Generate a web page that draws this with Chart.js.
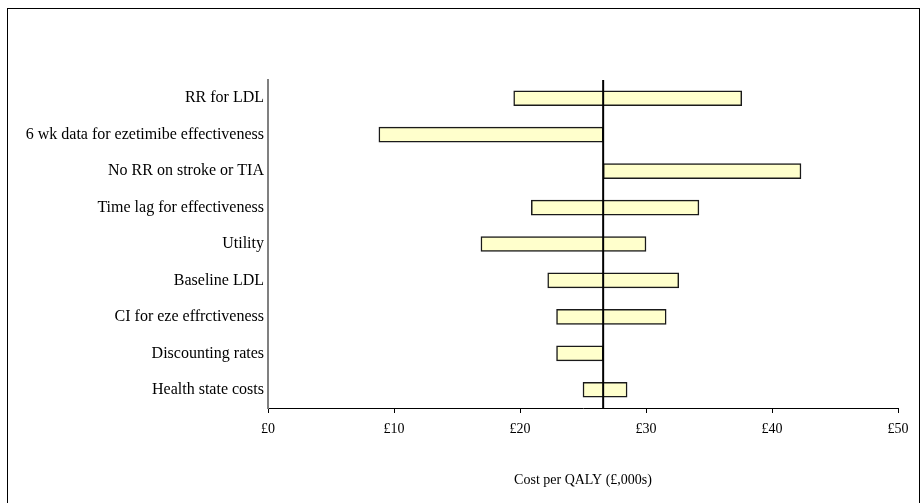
<!DOCTYPE html>
<html>
<head>
<meta charset="utf-8">
<script src="https://cdn.jsdelivr.net/npm/chart.js@4/dist/chart.umd.min.js"></script>
<style>
  html, body { margin: 0; padding: 0; background: #fff; }
  #wrap { position: relative; width: 921px; height: 503px; overflow: hidden; }
  #frame { position: absolute; left: 7px; top: 8px; width: 913px; height: 520px; border: 1.5px solid #000; box-sizing: border-box; pointer-events: none; }
  canvas { position: absolute; left: 0; top: 0; }
</style>
</head>
<body>
<div id="wrap">
  <canvas id="c" width="921" height="503"></canvas>
  <div id="frame"></div>
</div>
<script>
// Sensitivity analyses: cost per QALY range for each scenario (£,000s)
const categories = [
  'RR for LDL',
  '6 wk data for ezetimibe effectiveness',
  'No RR on stroke or TIA',
  'Time lag for effectiveness',
  'Utility',
  'Baseline LDL',
  'CI for eze effrctiveness',
  'Discounting rates',
  'Health state costs'
];
const lowValues  = [19.5, 8.8, 26.6, 20.9, 16.9, 22.2, 22.9, 22.9, 25.0];
const highValues = [37.6, 26.6, 42.3, 34.2, 30.0, 32.6, 31.6, 26.6, 28.5];
const baseCase = 26.6;
const xTicks = [0, 10, 20, 30, 40, 50];

const SERIF = '"Liberation Serif", "Times New Roman", serif';
const FONT = { family: SERIF, size: 14 };
const LABEL_FONT = { family: SERIF, size: 16 };

// Vertical reference line at the base-case value
const baseLinePlugin = {
  id: 'baseLine',
  afterDatasetsDraw(chart) {
    const { ctx, chartArea, scales } = chart;
    const x = scales.x.getPixelForValue(baseCase);
    ctx.save();
    ctx.strokeStyle = '#000';
    ctx.lineWidth = 2;
    ctx.beginPath();
    ctx.moveTo(x, chartArea.top);
    ctx.lineTo(x, chartArea.bottom);
    ctx.stroke();
    ctx.restore();
  }
};

new Chart(document.getElementById('c'), {
  type: 'bar',
  data: {
    labels: categories,
    datasets: [{
      data: categories.map((_, i) => [lowValues[i], highValues[i]]),
      backgroundColor: '#FFFFCC',
      borderColor: '#1a1a1a',
      borderWidth: 1.5,
      borderSkipped: false,
      barThickness: 15,
      categoryPercentage: 1,
      barPercentage: 1
    }]
  },
  options: {
    indexAxis: 'y',
    responsive: false,
    animation: false,
    devicePixelRatio: 1,
    layout: { padding: { top: 80, right: 23, left: 0, bottom: 0 } },
    plugins: { legend: { display: false }, tooltip: { enabled: false } },
    scales: {
      x: {
        type: 'linear',
        min: 0,
        max: 50,
        afterBuildTicks(scale) { scale.ticks = xTicks.map(v => ({ value: v })); },
        afterFit(scale) { scale.height = 95; },
        ticks: {
          color: '#000',
          font: FONT,
          padding: 8,
          maxRotation: 0,
          callback: v => '£' + v
        },
        grid: { drawOnChartArea: false, drawTicks: true, tickLength: 5, color: '#000', lineWidth: 1 },
        border: { display: true, color: '#000', width: 1 },
        title: {
          display: true,
          text: 'Cost per QALY (£,000s)',
          color: '#000',
          font: FONT,
          padding: { top: 0, bottom: 14 }
        }
      },
      y: {
        afterFit(scale) { scale.width = 268; },
        ticks: { color: '#000', font: LABEL_FONT, padding: 4, autoSkip: false },
        grid: { display: false, drawTicks: false },
        border: { display: true, color: '#808080', width: 2 }
      }
    }
  },
  plugins: [baseLinePlugin]
});
</script>
</body>
</html>
